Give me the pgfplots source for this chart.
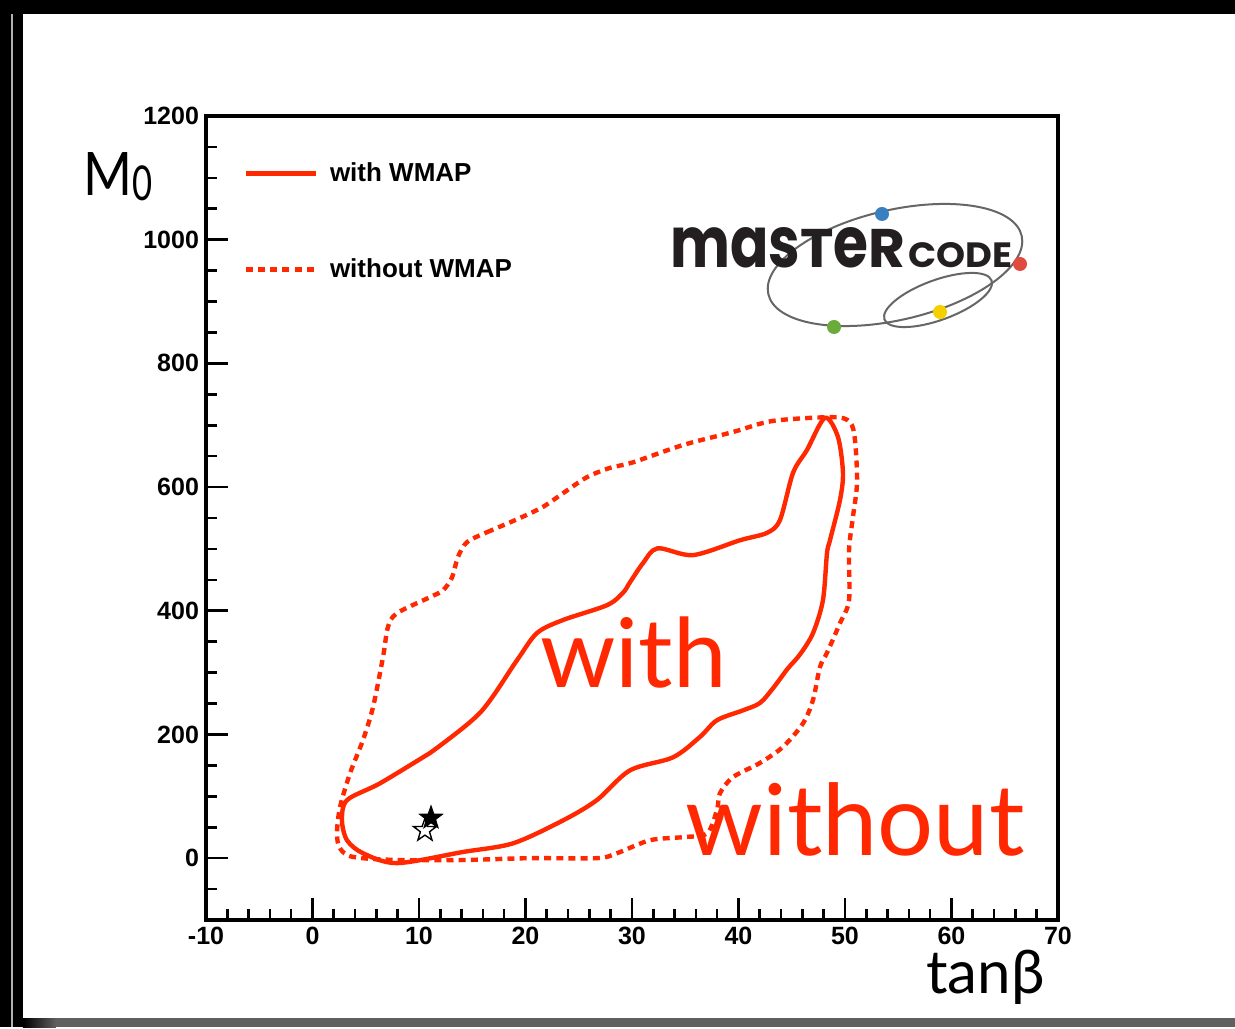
\documentclass[border=0pt]{standalone}
\usepackage{pgfplots}
\pgfplotsset{compat=1.18}
\usepackage{fontspec}
\usepackage{graphicx}
\setmainfont{Liberation Sans}
\newfontfamily\gill{Lato}
\newfontfamily\logofont{Poppins}
\definecolor{mcred}{RGB}{255,40,0}
\definecolor{logogray}{RGB}{35,31,32}
\definecolor{lblue}{RGB}{58,127,192}
\definecolor{lred}{RGB}{224,74,63}
\definecolor{lgreen}{RGB}{106,171,58}
\definecolor{lyellow}{RGB}{245,208,0}
\pgfdeclareplotmark{fivestar}{%
  \pgfpathmoveto{\pgfpointpolar{90}{\pgfplotmarksize}}%
  \pgfpathlineto{\pgfpointpolar{126}{0.4\pgfplotmarksize}}%
  \pgfpathlineto{\pgfpointpolar{162}{\pgfplotmarksize}}%
  \pgfpathlineto{\pgfpointpolar{198}{0.4\pgfplotmarksize}}%
  \pgfpathlineto{\pgfpointpolar{234}{\pgfplotmarksize}}%
  \pgfpathlineto{\pgfpointpolar{270}{0.4\pgfplotmarksize}}%
  \pgfpathlineto{\pgfpointpolar{306}{\pgfplotmarksize}}%
  \pgfpathlineto{\pgfpointpolar{342}{0.4\pgfplotmarksize}}%
  \pgfpathlineto{\pgfpointpolar{18}{\pgfplotmarksize}}%
  \pgfpathlineto{\pgfpointpolar{54}{0.4\pgfplotmarksize}}%
  \pgfpathclose
  \pgfusepathqfillstroke}
\pgfdeclareplotmark{fivestaropen}{%
  \pgfpathmoveto{\pgfpointpolar{90}{\pgfplotmarksize}}%
  \pgfpathlineto{\pgfpointpolar{126}{0.4\pgfplotmarksize}}%
  \pgfpathlineto{\pgfpointpolar{162}{\pgfplotmarksize}}%
  \pgfpathlineto{\pgfpointpolar{198}{0.4\pgfplotmarksize}}%
  \pgfpathlineto{\pgfpointpolar{234}{\pgfplotmarksize}}%
  \pgfpathlineto{\pgfpointpolar{270}{0.4\pgfplotmarksize}}%
  \pgfpathlineto{\pgfpointpolar{306}{\pgfplotmarksize}}%
  \pgfpathlineto{\pgfpointpolar{342}{0.4\pgfplotmarksize}}%
  \pgfpathlineto{\pgfpointpolar{18}{\pgfplotmarksize}}%
  \pgfpathlineto{\pgfpointpolar{54}{0.4\pgfplotmarksize}}%
  \pgfpathclose
  \pgfusepathqstroke}
\begin{document}
\begin{tikzpicture}
% frame of the slide
\fill[black] (-103pt,-53.5pt) rectangle (514.5pt,460pt);
\fill[white] (-91.5pt,-49pt) rectangle (514.5pt,453pt);
\fill[gray!75!black] (-91.5pt,-53.5pt) rectangle (514.5pt,-49pt);
\shade[left color=black, right color=gray!75!black] (-91.5pt,-53.5pt) rectangle (-75pt,-49pt);
\draw[gray!60, line width=1pt] (-97pt,-53.5pt) -- (-97pt,453pt);
\begin{axis}[
  scale only axis, width=426pt, height=402pt,
  xmin=-10, xmax=70, ymin=-100, ymax=1200,
  clip=false,
  axis line style={line width=1.8pt},
  xtick={-10,0,10,20,30,40,50,60,70},
  xticklabels={-10,0,10,20,30,40,50,60,70},
  ytick={0,200,400,600,800,1000,1200},
  yticklabels={0,200,400,600,800,1000,1200},
  minor xtick={-8,-6,...,68},
  minor ytick={-50,50,100,...,1150},
  xtick pos=bottom, ytick pos=left,
  tick align=inside,
  major tick length=11pt, minor tick length=5.5pt,
  tick style={black, line width=1.3pt},
  ticklabel style={font=\bfseries\fontsize{12.5}{14}\selectfont},
  legend style={at={(axis cs:-7.07,1138)}, anchor=north west, draw=none, fill=none,
    row sep=33pt, font=\bfseries\fontsize{13}{15}\selectfont},
  legend cell align=left,
  legend image code/.code={\draw[#1] (0pt,0pt) -- (35pt,0pt); \path (39pt,0pt);},
]
\addplot[mcred, line width=2.2pt, smooth, tension=0.5] coordinates {
(11.03,170) (15.73,235) (19.2,320) (21.08,364) (23.52,385) (27.65,409) (29.15,429)
(29.81,446) (31.03,477) (32.4,501) (35.73,490) (40.14,514) (42.68,526) (43.9,547)
(45.12,623) (46.43,660) (48.12,712) (49.34,681) (49.81,623) (49.53,579) (48.59,514)
(48.31,493) (47.93,417) (47.0,364) (45.8,330) (44.6,306) (43.3,276) (42.02,251) (40.42,239)
(37.98,223) (36.38,196) (33.85,163) (29.81,142) (26.71,94) (23.52,61) (18.83,24)
(14.13,10) (7.93,-8) (4.74,8) (3.24,29) (2.77,61) (3.24,93.8) (6.34,121) (11.03,170)};
\addlegendentry{with WMAP}
\addplot[mcred, line width=2.2pt, dash pattern=on 3.5pt off 2.6pt, smooth, tension=0.5] coordinates {
(16.38,527) (19.48,550) (21.64,568) (23.52,590) (25.77,616) (27.93,631) (30.09,640)
(34.79,668) (39.48,689) (43.24,707) (48.87,713) (50.47,705) (50.94,676) (51.13,607)
(50.75,552) (50.38,498) (50.38,417) (49.53,380) (48.31,332) (47.65,309) (47.0,256)
(46.06,218) (44.18,180) (42.02,154) (39.48,131) (38.26,105) (37.98,78) (37.04,40)
(34.79,34) (31.69,29) (28.59,8) (26.71,0) (20.42,0) (14.13,-3) (7.93,-3) (3.8,2)
(2.58,16) (2.3,40) (2.58,82) (3.52,137) (4.74,191) (5.68,244) (6.62,325) (7.09,374)
(7.93,396) (11.03,422) (12.25,433) (13.1,454) (13.66,487) (14.51,511) (16.38,527)};
\addlegendentry{without WMAP}
\addplot[forget plot, only marks, mark=fivestaropen, mark size=6pt, mark options={draw=black, line width=0.7pt}] coordinates {(10.56,45)};
\addplot[forget plot, only marks, mark=fivestar, mark size=6pt, mark options={draw=black, fill=black, line width=0.5pt}] coordinates {(11.13,65)};
\node[anchor=base west, text=mcred, inner sep=0pt, font=\gill\fontsize{48}{50}\selectfont] at (axis cs:21.36,276) {with};
\node[anchor=base west, text=mcred, inner sep=0pt, font=\gill\fontsize{49.5}{52}\selectfont] at (axis cs:34.98,5) {without};
\node[anchor=base west, inner sep=0pt, font=\gill\fontsize{30}{32}\selectfont] at (axis cs:-21.55,1071) {\scalebox{0.88}[1]{M}\raisebox{-2.5pt}{\fontsize{24}{26}\selectfont\scalebox{0.72}[1]{0}}};
\node[anchor=base west, inner sep=0pt, font=\gill\fontsize{30}{32}\selectfont] at (axis cs:57.6,-219) {tanβ};
\end{axis}
% masterCODE logo
\draw[gray!80!black, line width=1pt, rotate around={13:(344.5pt,327.5pt)}] (344.5pt,327.5pt) ellipse (65pt and 27.5pt);
\draw[gray!80!black, line width=1pt, rotate around={20:(366pt,310pt)}] (366pt,310pt) ellipse (28.5pt and 10pt);
\node[anchor=south west, inner sep=0pt, text=logogray] at (232pt,326pt) {\resizebox{117.5pt}{20pt}{\logofont\bfseries\scalebox{1}[1.3]{mas}T\scalebox{1}[1.3]{e}R}};
\node[anchor=south west, inner sep=0pt, text=logogray] at (351pt,326pt) {\resizebox{52pt}{12.5pt}{\logofont\bfseries CODE}};
\fill[lblue] (338pt,353pt) circle (3.5pt);
\fill[lred] (407pt,328pt) circle (3.5pt);
\fill[lgreen] (314pt,296.5pt) circle (3.5pt);
\fill[lyellow] (367pt,304pt) circle (3.5pt);
\end{tikzpicture}
\end{document}
